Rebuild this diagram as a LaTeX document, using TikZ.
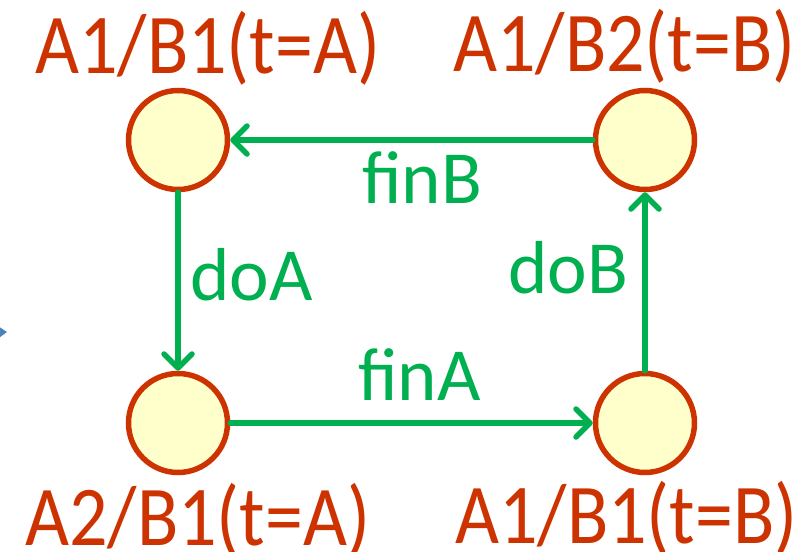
\documentclass[tikz,border=0pt]{standalone}
\usepackage{fontspec}
\setmainfont{Carlito}
\usetikzlibrary{arrows.meta}
\definecolor{stateor}{RGB}{204,51,0}
\definecolor{stfill}{RGB}{255,255,204}
\definecolor{trgreen}{RGB}{0,176,80}
\definecolor{ptrblue}{RGB}{79,129,189}
\newcommand{\tallt}[1]{\scalebox{1}[1.12]{#1}}
\begin{document}
\begin{tikzpicture}[x=1pt,y=-1pt,
  state/.style={circle,draw=stateor,fill=stfill,line width=5.5pt,minimum size=99pt,inner sep=0pt},
  stlabel/.style={anchor=base west,inner sep=0pt,text=stateor,font=\fontsize{76}{76}\selectfont},
  trlabel/.style={anchor=base west,inner sep=0pt,text=trgreen,font=\fontsize{75}{75}\selectfont},
  trans/.style={draw=trgreen,line width=5.5pt,line cap=round,line join=round,
    -{Straight Barb[length=14pt,width=28pt,line cap=round,line join=round]}}]
\useasboundingbox (0,0) rectangle (812,552);
\fill[ptrblue] (-8,322) -- (7,332) -- (-8,343) -- cycle;
\node[state] (tl) at (178,140) {};
\node[state] (tr) at (645,140) {};
\node[state] (bl) at (178,423) {};
\node[state] (br) at (645,423) {};
\draw[trans] (tr) -- (tl);
\draw[trans] (tl) -- (bl);
\draw[trans] (bl) -- (br);
\draw[trans] (br) -- (tr);
\node[stlabel] (ltl) at (35,73) {\tallt{A1/B1(t=A)}};
\node[stlabel] (ltr) at (453,71) {\tallt{A1/B2(t=B)}};
\node[stlabel] (lbl) at (25,545) {\tallt{A2/B1(t=A)}};
\node[stlabel] (lbr) at (455,543) {\tallt{A1/B1(t=B)}};
\node[trlabel] (fb) at (362,203) {finB};
\node[trlabel] (da) at (190,300) {doA};
\node[trlabel] (db) at (508,293) {doB};
\node[trlabel] (fa) at (358,400) {finA};
\end{tikzpicture}
\end{document}
